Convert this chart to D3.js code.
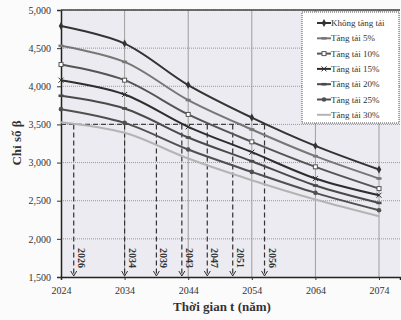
<!DOCTYPE html>
<html>
<head>
<meta charset="utf-8">
<script src="https://cdn.jsdelivr.net/npm/d3@7"></script>
<style>
body { margin: 0; background: #fbfbfb; }
svg { display: block; }
</style>
</head>
<body>
<svg width="401" height="320"></svg>
<script>
// data
var years = [2024, 2034, 2044, 2054, 2064, 2074];
var seriesNames = ['Không tăng tải', 'Tăng tải 5%', 'Tăng tải 10%', 'Tăng tải 15%', 'Tăng tải 20%', 'Tăng tải 25%', 'Tăng tải 30%'];
var khongTang = [4790, 4560, 4016, 3590, 3219, 2909];
var tang5 = [4530, 4320, 3819, 3434, 3084, 2791];
var tang10 = [4285, 4080, 3631, 3272, 2944, 2659];
var tang15 = [4080, 3893, 3469, 3136, 2791, 2572];
var tang20 = [3876, 3709, 3329, 3018, 2699, 2471];
var tang25 = [3700, 3520, 3171, 2878, 2603, 2375];
var tang30 = [3530, 3390, 3053, 2769, 2515, 2296];
var crossYears = [2026, 2034, 2039, 2043, 2047, 2051, 2056];
var threshold = 3500;
var yTicks = [1500, 2000, 2500, 3000, 3500, 4000, 4500, 5000];

var allSeries = [khongTang, tang5, tang10, tang15, tang20, tang25, tang30];
var colors = ['#333', '#777', '#555', '#2e2e2e', '#4a4a4a', '#505050', '#b4b4b4'];
var markers = ['diamond', 'dash', 'square', 'cross', 'dash', 'circle', 'none'];

var svg = d3.select('svg');
var plotL = 61, plotR = 400, plotT = 10, plotB = 277;

var x = d3.scaleLinear().domain([2024, 2077.3]).range([plotL, plotR]);
var y = d3.scaleLinear().domain([1500, 5000]).range([plotB, plotT]);

// plot background
svg.append('rect')
    .attr('x', plotL).attr('y', plotT)
    .attr('width', plotR - plotL).attr('height', plotB - plotT)
    .attr('fill', '#ebebf1');

// horizontal grid (dotted)
svg.append('g').selectAll('line')
    .data(yTicks.slice(1))
    .enter().append('line')
    .attr('x1', plotL).attr('x2', plotR)
    .attr('y1', function(d){ return y(d); })
    .attr('y2', function(d){ return y(d); })
    .attr('stroke', '#999')
    .attr('stroke-dasharray', '1,1');

// vertical grid (solid)
svg.append('g').selectAll('line')
    .data(years.slice(1))
    .enter().append('line')
    .attr('x1', function(d){ return x(d); })
    .attr('x2', function(d){ return x(d); })
    .attr('y1', plotT).attr('y2', plotB)
    .attr('stroke', '#8a8a8a')
    .attr('stroke-width', 0.8);

// axes
var xAxis = svg.append('g')
    .attr('transform', 'translate(0,' + plotB + ')')
    .call(d3.axisBottom(x).tickValues(years).tickFormat(d3.format('d')).tickSize(3));
var yAxis = svg.append('g')
    .attr('transform', 'translate(' + plotL + ',0)')
    .call(d3.axisLeft(y).tickValues(yTicks).tickFormat(d3.format(',')).tickSize(4));

[xAxis, yAxis].forEach(function(a){
    a.select('.domain').attr('stroke', '#222').attr('stroke-width', 1.5);
    a.selectAll('.tick line').attr('stroke', '#333');
    a.selectAll('text')
        .attr('font-family', 'Liberation Serif')
        .attr('font-size', 10)
        .attr('fill', '#333');
});
xAxis.selectAll('text').attr('dy', '1.1em');
yAxis.selectAll('text').attr('dx', '-0.3em');

// top frame
svg.append('line')
    .attr('x1', plotL).attr('x2', plotR)
    .attr('y1', plotT).attr('y2', plotT)
    .attr('stroke', '#444').attr('stroke-width', 1.5);

// threshold dashed line and drops
svg.append('line')
    .attr('x1', x(2024)).attr('x2', x(d3.max(crossYears)))
    .attr('y1', y(threshold)).attr('y2', y(threshold))
    .attr('stroke', '#444').attr('stroke-width', 1.2)
    .attr('stroke-dasharray', '5,3');

var drops = svg.append('g').selectAll('g')
    .data(crossYears)
    .enter().append('g');

drops.append('line')
    .attr('x1', function(d){ return x(d); })
    .attr('x2', function(d){ return x(d); })
    .attr('y1', y(threshold)).attr('y2', plotB - 1)
    .attr('stroke', '#333').attr('stroke-width', 1.2)
    .attr('stroke-dasharray', '5,3');

drops.append('path')
    .attr('d', function(d){
        var cx = x(d);
        return 'M' + (cx - 3) + ',' + (plotB - 6) + 'L' + cx + ',' + (plotB - 1) + 'L' + (cx + 3) + ',' + (plotB - 6);
    })
    .attr('fill', 'none')
    .attr('stroke', '#333');

drops.append('text')
    .attr('transform', function(d){
        return 'translate(' + (x(d) + 4) + ',' + 248 + ') rotate(90)';
    })
    .attr('font-family', 'Liberation Serif')
    .attr('font-size', 10)
    .attr('font-weight', 'bold')
    .attr('fill', '#333')
    .text(function(d){ return d; });

// series lines
var line = d3.line()
    .x(function(d, i){ return x(years[i]); })
    .y(function(d){ return y(d); })
    .curve(d3.curveCatmullRom);

function drawMarker(g, type, cx, cy, color) {
    if (type == 'diamond') {
        g.append('path').attr('d', d3.symbol(d3.symbolDiamond, 18)()).attr('transform', 'translate(' + cx + ',' + cy + ')').attr('fill', color);
    } else if (type == 'square') {
        g.append('rect').attr('x', cx - 2).attr('y', cy - 2).attr('width', 4).attr('height', 4).attr('fill', '#fff').attr('stroke', color);
    } else if (type == 'cross') {
        g.append('path').attr('d', d3.symbol(d3.symbolTimes, 18)()).attr('transform', 'translate(' + cx + ',' + cy + ')').attr('fill', 'none').attr('stroke', color);
    } else if (type == 'circle') {
        g.append('circle').attr('cx', cx).attr('cy', cy).attr('r', 2.3).attr('fill', color);
    } else if (type == 'dash') {
        g.append('rect').attr('x', cx - 2.5).attr('y', cy - 1.3).attr('width', 5).attr('height', 2.6).attr('fill', color);
    }
}

allSeries.forEach(function(vals, k){
    var g = svg.append('g');
    g.append('path')
        .datum(vals)
        .attr('d', line)
        .attr('fill', 'none')
        .attr('stroke', colors[k])
        .attr('stroke-width', 2);
    vals.forEach(function(v, i){
        drawMarker(g, markers[k], x(years[i]), y(v), colors[k]);
    });
});

// legend
var legend = svg.append('g');
legend.append('rect')
    .attr('x', 302).attr('y', 12)
    .attr('width', 97).attr('height', 111)
    .attr('fill', '#fff')
    .attr('stroke', '#555')
    .attr('stroke-dasharray', '1,1');

seriesNames.forEach(function(name, k){
    var ly = 23 + k * 15.3;
    legend.append('line')
        .attr('x1', 317).attr('x2', 331)
        .attr('y1', ly).attr('y2', ly)
        .attr('stroke', colors[k]).attr('stroke-width', 2);
    drawMarker(legend, markers[k], 324, ly, colors[k]);
    legend.append('text')
        .attr('x', 331).attr('y', ly + 3)
        .attr('font-family', 'Liberation Serif')
        .attr('font-size', 9)
        .attr('fill', '#333')
        .text(name);
});

// axis titles
svg.append('text')
    .attr('x', 222).attr('y', 311)
    .attr('text-anchor', 'middle')
    .attr('font-family', 'Liberation Serif')
    .attr('font-weight', 'bold')
    .attr('font-size', 13)
    .attr('fill', '#333')
    .text('Thời gian t (năm)');

svg.append('text')
    .attr('transform', 'translate(21,143) rotate(-90)')
    .attr('text-anchor', 'middle')
    .attr('font-family', 'Liberation Serif')
    .attr('font-weight', 'bold')
    .attr('font-size', 13)
    .attr('fill', '#333')
    .text('Chỉ số β');
</script>
</body>
</html>
